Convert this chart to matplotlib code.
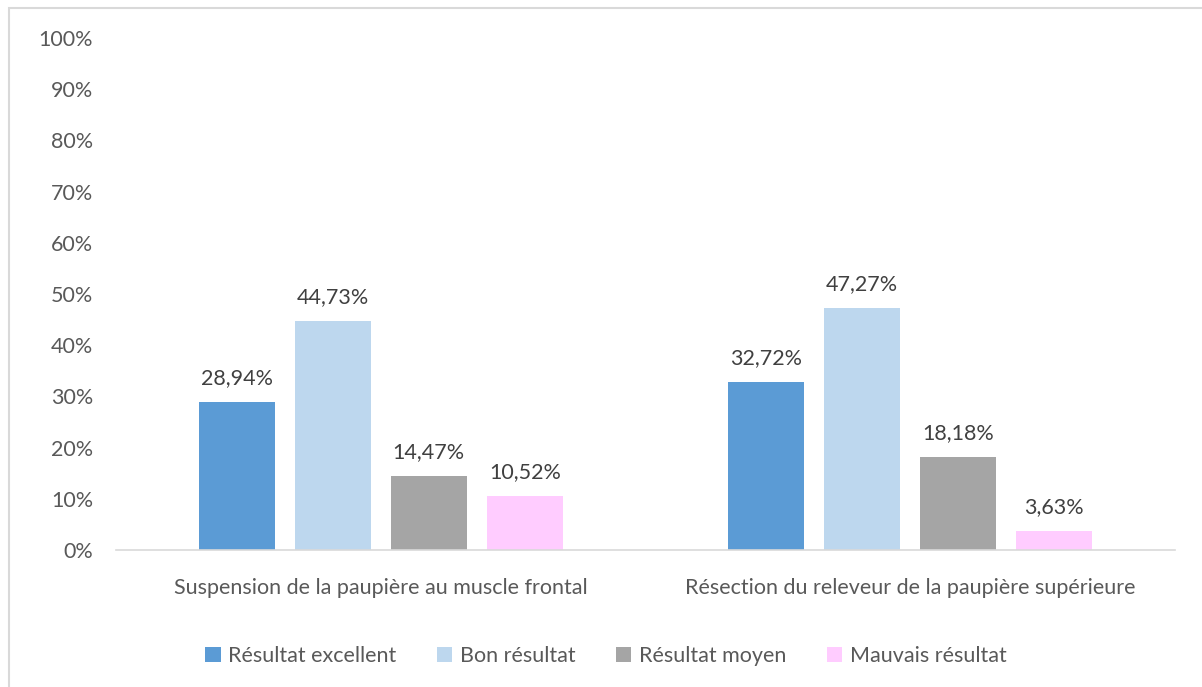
import numpy as np
import matplotlib.pyplot as plt
from matplotlib.patches import Rectangle

categories = ["Suspension de la paupière au muscle frontal",
              "Résection du releveur de la paupière supérieure"]
series_names = ["Résultat excellent", "Bon résultat", "Résultat moyen", "Mauvais résultat"]
excellent = [28.94, 32.72]
bon = [44.73, 47.27]
moyen = [14.47, 18.18]
mauvais = [10.52, 3.63]
yticks = [0, 10, 20, 30, 40, 50, 60, 70, 80, 90, 100]

colors = ["#5B9BD5", "#BDD7EE", "#A5A5A5", "#FFCCFF"]
text_col = "#595959"
label_col = "#404040"
fs = 15.5

plt.rcParams['font.family'] = ['Lato', 'DejaVu Sans']

fig = plt.figure(figsize=(12.02, 6.87), dpi=100)
# chart area border (left and top edges visible)
fig.patches.append(Rectangle((9 / 1202, -0.1), 1.2, 1 - 8 / 687 + 0.1,
                             transform=fig.transFigure, fill=False,
                             edgecolor="#D9D9D9", linewidth=1.5))

ax = fig.add_axes([116 / 1202, 1 - 550 / 687, 1059 / 1202, 512 / 687])

x = np.arange(len(categories))
width = 76 / 529.5
step = 96 / 529.5
offsets = (np.arange(4) - 1.5) * step

for vals, name, col, off in zip([excellent, bon, moyen, mauvais], series_names, colors, offsets):
    bars = ax.bar(x + off, vals, width, color=col, label=name, zorder=2)
    for b, v in zip(bars, vals):
        ax.annotate(("%.2f%%" % v).replace(".", ","),
                    (b.get_x() + b.get_width() / 2, v),
                    xytext=(0, 10), textcoords="offset points",
                    ha="center", va="bottom", fontsize=fs, color=label_col)

ax.set_xlim(-0.5, 1.5)
ax.set_ylim(0, 100)
ax.set_yticks(yticks)
ax.set_yticklabels(["%d%%" % t for t in yticks], fontsize=fs, color=text_col)
ax.set_xticks(x)
ax.set_xticklabels(categories, fontsize=fs, color=text_col)
ax.tick_params(axis="both", length=0)
ax.tick_params(axis="y", pad=16.5)
ax.tick_params(axis="x", pad=20)

for s in ["top", "right", "left"]:
    ax.spines[s].set_visible(False)
ax.spines["bottom"].set_color("#D9D9D9")
ax.spines["bottom"].set_linewidth(1.2)

leg = fig.legend(loc="center", bbox_to_anchor=(606 / 1202, 1 - 656 / 687), ncol=4,
                 frameon=False, fontsize=fs, handlelength=0.7, handleheight=0.7,
                 handletextpad=0.35, columnspacing=1.9)
for t in leg.get_texts():
    t.set_color(text_col)

fig.savefig("out.png", dpi=100)
